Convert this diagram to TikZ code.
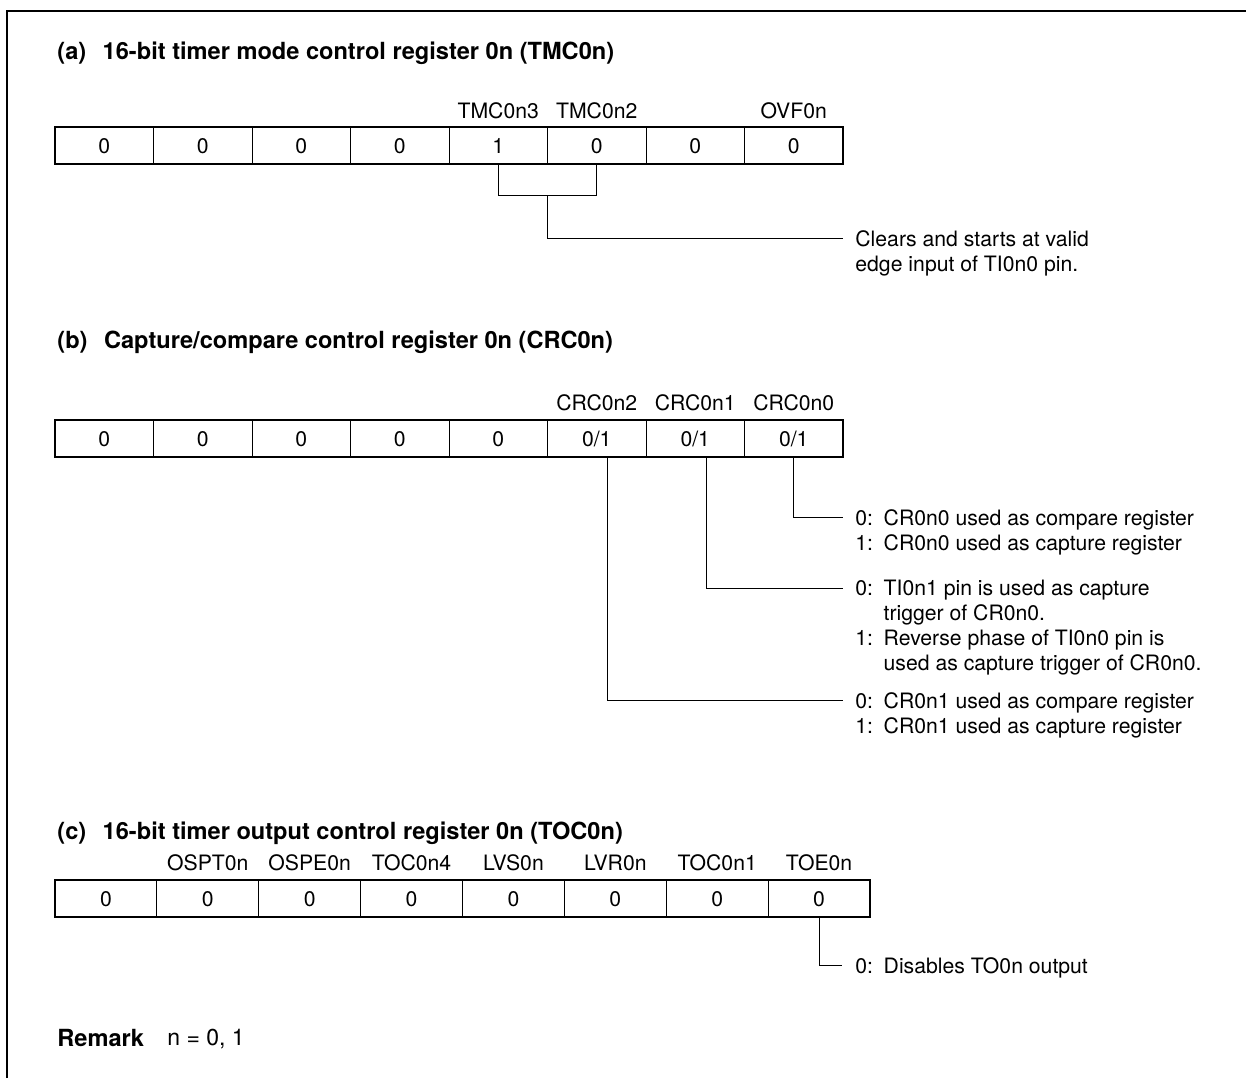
\documentclass[tikz,border=0pt]{standalone}
\usepackage{fontspec}
\setmainfont{TeX Gyre Heros}
\begin{document}
\begin{tikzpicture}[
    x=0.5pt, y=-0.5pt,
    heading/.style={anchor=west, inner sep=0pt, font=\fontsize{11.8}{13}\selectfont\bfseries, text height=8.5pt, text depth=0pt},
    field/.style={inner sep=0pt, font=\fontsize{10.6}{12}\selectfont, text height=7.6pt, text depth=0pt},
    cell/.style={rectangle, draw, line width=0.5pt, minimum height=18.5pt, inner sep=0pt, outer sep=0pt, font=\fontsize{10.6}{12}\selectfont, text height=7.6pt, text depth=0pt},
    note/.style={anchor=north west, align=left, inner sep=0pt, font=\fontsize{10.6}{12.4}\selectfont},
    link/.style={line width=0.5pt}
]
\useasboundingbox (0,0) rectangle (1246,1078);

% Frame
\draw[line width=1.3pt] (7,1078) -- (7,11) -- (1246,11);

% (a) TMC0n
\node[heading] (tita) at (57,51) {(a)\hspace{0.7em}16-bit timer mode control register 0n (TMC0n)};
\foreach \v [count=\i] in {0,0,0,0,1,0,0,0}
    \node[cell, minimum width=49.25pt] (a\i) at ({55+98.5*(\i-0.5)},145.5) {\v};
\draw[line width=1pt] (a1.north west) rectangle (a8.south east);
\node[field] (tmc3) at (a5 |- 0,111) {TMC0n3};
\node[field] (tmc2) at (a6 |- 0,111) {TMC0n2};
\node[field] (ovf) at (a8 |- 0,111) {OVF0n};

\coordinate (brka) at (547.5,195);
\coordinate (enda) at (843,238);
\draw[link] (a5.south) |- (brka) -| (a6.south);
\draw[link] (brka) |- (enda);
\node[note] (clra) at (855,230) {Clears and starts at valid\\edge input of TI0n0 pin.};

% (b) CRC0n
\node[heading] (titb) at (57,340) {(b)\hspace{0.7em}Capture/compare control register 0n (CRC0n)};
\foreach \v [count=\i] in {0,0,0,0,0,{0/1},{0/1},{0/1}}
    \node[cell, minimum width=49.25pt] (b\i) at ({55+98.5*(\i-0.5)},438.5) {\v};
\draw[line width=1pt] (b1.north west) rectangle (b8.south east);
\node[field] (crc2) at (b6 |- 0,403) {CRC0n2};
\node[field] (crc1) at (b7 |- 0,403) {CRC0n1};
\node[field] (crc0) at (b8 |- 0,403) {CRC0n0};

\coordinate (endb0) at (843,517);
\coordinate (endb1) at (843,588);
\coordinate (endb2) at (843,700);
\draw[link] (b8.south) |- (endb0);
\draw[link] ([xshift=5.6pt]b7.south) |- (endb1);
\draw[link] ([xshift=5.6pt]b6.south) |- (endb2);
\node[note] (crc0txt) at (855,509) {0:\enspace CR0n0 used as compare register\\1:\enspace CR0n0 used as capture register};
\node[note] (crc1txt) at (855,580) {0:\enspace TI0n1 pin is used as capture\\\phantom{0:}\enspace trigger of CR0n0.\\1:\enspace Reverse phase of TI0n0 pin is\\\phantom{1:}\enspace used as capture trigger of CR0n0.};
\node[note] (crc2txt) at (855,692) {0:\enspace CR0n1 used as compare register\\1:\enspace CR0n1 used as capture register};

% (c) TOC0n
\node[heading] (titc) at (57,831) {(c)\hspace{0.7em}16-bit timer output control register 0n (TOC0n)};
\foreach \v [count=\i] in {0,0,0,0,0,0,0,0}
    \node[cell, minimum width=50.94pt] (c\i) at ({55+101.875*(\i-0.5)},898.5) {\v};
\draw[line width=1pt] (c1.north west) rectangle (c8.south east);
\foreach \n [count=\i from 2] in {OSPT0n,OSPE0n,TOC0n4,LVS0n,LVR0n,TOC0n1,TOE0n}
    \node[field] (toc\i) at (c\i |- 0,863) {\n};

\coordinate (endc) at (842,965);
\draw[link] (c8.south) |- (endc);
\node[note] (toetxt) at (855,957) {0:\enspace Disables TO0n output};

% Remark
\node[heading] (rem) at (57,1038) {Remark};
\node[field, anchor=west, font=\fontsize{11.5}{13}\selectfont] (remn) at (167,1038) {n = 0, 1};

\end{tikzpicture}
\end{document}
